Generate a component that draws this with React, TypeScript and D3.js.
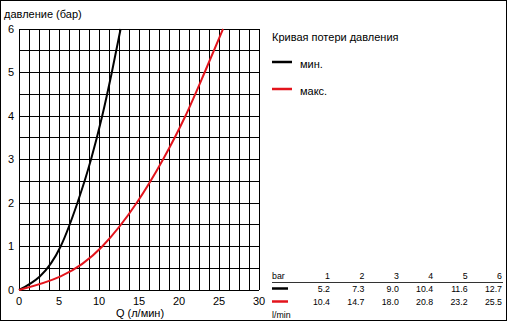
import React, { useEffect, useRef } from 'react';
import * as d3 from 'd3';

// давление (бар) в строке таблицы
const pressures = [1, 2, 3, 4, 5, 6];
// расход, л/мин
const flowMin = [5.2, 7.3, 9.0, 10.4, 11.6, 12.7];
const flowMax = [10.4, 14.7, 18.0, 20.8, 23.2, 25.5];
const xTicks = [0, 5, 10, 15, 20, 25, 30];
const yTicks = [0, 1, 2, 3, 4, 5, 6];

const RED = '#e3141c';

export default function App() {
  const svgRef = useRef<SVGSVGElement>(null);

  useEffect(() => {
    if (!svgRef.current) return;
    const svg = d3.select(svgRef.current);
    svg.selectAll('*').remove();

    const font = 'Liberation Sans, Arial, sans-serif';

    // рамка всей картинки
    svg.append('rect')
      .attr('x', 0.5).attr('y', 0.5)
      .attr('width', 506).attr('height', 320)
      .attr('fill', '#fff').attr('stroke', '#000');

    // шкалы
    const x = d3.scaleLinear().domain([0, 30]).range([19, 259]);
    const y = d3.scaleLinear().domain([0, 6]).range([290, 29]);

    // сетка
    const grid = svg.append('g')
      .attr('stroke', '#000')
      .attr('stroke-width', 1)
      .attr('shape-rendering', 'crispEdges');
    d3.range(0, 30.01, 1.25).forEach(v => {
      grid.append('line')
        .attr('x1', x(v)).attr('x2', x(v))
        .attr('y1', y(0)).attr('y2', y(6));
    });
    d3.range(0, 6.01, 0.5).forEach(v => {
      grid.append('line')
        .attr('x1', x(0)).attr('x2', x(30))
        .attr('y1', y(v)).attr('y2', y(v));
    });

    // кривые
    const line = d3.line<[number, number]>()
      .x(d => x(d[0]))
      .y(d => y(d[1]))
      .curve(d3.curveMonotoneX);

    const series = [
      { flows: flowMin, color: '#000' },
      { flows: flowMax, color: RED },
    ];
    series.forEach(s => {
      const pts: [number, number][] = [[0, 0], ...s.flows.map((f, i) => [f, pressures[i]] as [number, number])];
      svg.append('path')
        .datum(pts)
        .attr('fill', 'none')
        .attr('stroke', s.color)
        .attr('stroke-width', 2)
        .attr('d', line);
    });

    // подписи осей
    svg.append('g')
      .selectAll('text')
      .data(yTicks)
      .join('text')
      .attr('x', 14)
      .attr('y', d => y(d))
      .attr('dy', '0.36em')
      .attr('text-anchor', 'end')
      .attr('font-family', font)
      .attr('font-size', 11)
      .text(d => d);

    svg.append('g')
      .selectAll('text')
      .data(xTicks)
      .join('text')
      .attr('x', d => x(d))
      .attr('y', 305)
      .attr('text-anchor', 'middle')
      .attr('font-family', font)
      .attr('font-size', 11)
      .text(d => d);

    svg.append('text')
      .attr('x', 4).attr('y', 18)
      .attr('font-family', font).attr('font-size', 11)
      .text('давление (бар)');

    svg.append('text')
      .attr('x', 140).attr('y', 317)
      .attr('text-anchor', 'middle')
      .attr('font-family', font).attr('font-size', 11)
      .text('Q (л/мин)');

    // легенда
    svg.append('text')
      .attr('x', 272).attr('y', 41)
      .attr('font-family', font).attr('font-size', 11)
      .text('Кривая потери давления');

    const legend = [
      { label: 'мин.', color: '#000', y: 62 },
      { label: 'макс.', color: RED, y: 89 },
    ];
    legend.forEach(l => {
      svg.append('line')
        .attr('x1', 272).attr('x2', 292)
        .attr('y1', l.y).attr('y2', l.y)
        .attr('stroke', l.color).attr('stroke-width', 2.5);
      svg.append('text')
        .attr('x', 300).attr('y', l.y + 6)
        .attr('font-family', font).attr('font-size', 11)
        .text(l.label);
    });

    // таблица
    const col = d3.scalePoint<number>().domain(pressures).range([330, 502]);
    const tfont = 8.8;

    svg.append('text')
      .attr('x', 272).attr('y', 279)
      .attr('font-family', font).attr('font-size', tfont)
      .text('bar');
    svg.append('text')
      .attr('x', 272).attr('y', 318)
      .attr('font-family', font).attr('font-size', tfont)
      .text('l/min');

    svg.append('line')
      .attr('x1', 272).attr('x2', 503)
      .attr('y1', 282.5).attr('y2', 282.5)
      .attr('stroke', '#333').attr('stroke-width', 1);

    const rows = [
      { vals: pressures.map(String), y: 279 },
      { vals: flowMin.map(v => v.toFixed(1)), y: 292 },
      { vals: flowMax.map(v => v.toFixed(1)), y: 305 },
    ];
    rows.forEach(r => {
      svg.append('g')
        .selectAll('text')
        .data(r.vals)
        .join('text')
        .attr('x', (_, i) => (col(pressures[i]) ?? 0))
        .attr('y', r.y)
        .attr('text-anchor', 'end')
        .attr('font-family', font)
        .attr('font-size', tfont)
        .text(d => d);
    });

    [{ color: '#000', y: 288.5 }, { color: RED, y: 301.5 }].forEach(s => {
      svg.append('line')
        .attr('x1', 272).attr('x2', 288)
        .attr('y1', s.y).attr('y2', s.y)
        .attr('stroke', s.color).attr('stroke-width', 2.5);
    });
  }, []);

  return (
    <svg
      ref={svgRef}
      width={508}
      height={323}
      style={{ position: 'absolute', left: 0, top: 0, background: '#fff' }}
    />
  );
}
